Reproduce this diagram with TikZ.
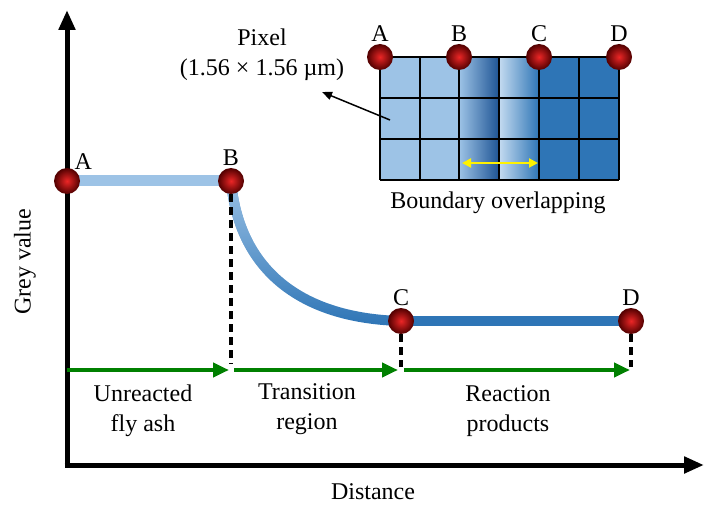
\documentclass[tikz,border=0pt]{standalone}
\usepackage{fontspec}
\setmainfont{Liberation Serif}
\usepackage{xcolor}
\usepackage{tikz}
\usetikzlibrary{arrows.meta, positioning, backgrounds, fadings}
\definecolor{paleblue}{RGB}{157, 195, 230}
\definecolor{deepblue}{RGB}{46, 117, 182}
\definecolor{darkerblue}{RGB}{30, 84, 148}
\definecolor{zonegreen}{RGB}{0, 128, 0}
\definecolor{beadred}{RGB}{232, 0, 0}

\tikzset{
    bead/.style={circle, minimum size=26pt, inner sep=0pt, shading=radial, inner color=beadred!85!white, outer color=beadred!35!black},
    letter/.style={inner sep=1pt},
    axisline/.style={line width=5pt, -{Triangle[length=20pt, width=16pt]}},
    dashline/.style={line width=4pt, dash pattern=on 8pt off 5pt},
    zonearrow/.style={line width=4pt, zonegreen, -{Triangle[length=16pt, width=14pt]}},
    gridline/.style={line width=2pt, black}
}

\begin{document}
\begin{tikzpicture}[x=1pt, y=-1pt, font=\fontsize{24}{30}\selectfont]
    \useasboundingbox (0,0) rectangle (704,505);

    % axes
    \coordinate (O) at (67,465);
    \coordinate (ytop) at (67,10);
    \coordinate (xend) at (704,465);
    \draw[axisline] (O) -- (ytop);
    \draw[axisline] ([xshift=-2.5pt]O) -- (xend);
    \node[rotate=90] (ylbl) at (25,262) {Grey value};
    \node (xlbl) at (373,492) {Distance};

    % grey value profile
    \node[bead] (A) at (67,181) {};
    \node[bead] (B) at (231,181) {};
    \node[bead] (C) at (401,321) {};
    \node[bead] (D) at (631,321) {};
    \node[letter, above right=1pt and -3pt of A] (Alab) {A};
    \node[letter, above=1pt of B] (Blab) {B};
    \node[letter, above=1pt of C] (Clab) {C};
    \node[letter, above=1pt of D] (Dlab) {D};

    \begin{pgfonlayer}{background}
        \draw[paleblue, line width=11pt] (A.center) -- (B.center);
        \draw[deepblue, line width=10pt] (B.center) .. controls (238,260) and (290,318) .. (C.center);
        \draw[paleblue, line width=10pt, path fading=south] (B.center) .. controls (238,260) and (290,318) .. (C.center);
        \draw[deepblue, line width=10pt] (C.center) -- (D.center);
    \end{pgfonlayer}

    % region boundaries
    \coordinate (a0) at (67,370);
    \coordinate (b0) at (231,370);
    \coordinate (c0) at (401,370);
    \coordinate (d0) at (631,370);
    \draw[dashline] (B.south) -- ([yshift=6pt]b0);
    \draw[dashline] (C.south) -- ([yshift=3pt]c0);
    \draw[dashline] (D.south) -- ([yshift=3pt]d0);
    \draw[zonearrow, shorten >=2pt] (a0) -- (b0);
    \draw[zonearrow, shorten <=3pt, shorten >=3pt] (b0) -- (c0);
    \draw[zonearrow, shorten <=3pt, shorten >=1pt] (c0) -- (d0);
    \node[align=center] (zone1) at (143,411) {Unreacted\\fly ash};
    \node[align=center] (zone2) at (307,409) {Transition\\region};
    \node[align=center] (zone3) at (508,411) {Reaction\\products};

    % pixel inset
    \fill[paleblue] (380,57) rectangle (459,180);
    \shade[left color=paleblue, middle color=paleblue!60!deepblue, right color=darkerblue] (459,57) rectangle (499,180);
    \shade[left color=paleblue!60!white, middle color=deepblue, right color=deepblue] (499,57) rectangle (539,180);
    \fill[deepblue] (539,57) rectangle (619,180);
    \foreach \x in {380,420,459,499,539,579,619}
        \draw[gridline] (\x,57) -- (\x,180);
    \foreach \y in {57,98,139,180}
        \draw[gridline] (380,\y) -- (619,\y);

    \node[bead] (A2) at (380,57) {};
    \node[bead] (B2) at (459,57) {};
    \node[bead] (C2) at (539,57) {};
    \node[bead] (D2) at (619,57) {};
    \node[letter, above=1pt of A2] (A2lab) {A};
    \node[letter, above=1pt of B2] (B2lab) {B};
    \node[letter, above=1pt of C2] (C2lab) {C};
    \node[letter, above=1pt of D2] (D2lab) {D};

    \coordinate (ov1) at (462,163);
    \coordinate (ov2) at (538,163);
    \draw[yellow, line width=2pt, {Triangle[length=9pt, width=9pt]}-{Triangle[length=9pt, width=9pt]}] (ov1) -- (ov2);
    \node (ovlbl) at (498,203) {Boundary overlapping};

    \node[align=center] (pixlbl) at (262,55) {Pixel\\(1.56 × 1.56 µm)};
    \coordinate (pxin) at (390,120);
    \coordinate (pxtip) at (322,92);
    \draw[line width=1.5pt, -{Triangle[length=10pt, width=8pt]}] (pxin) -- (pxtip);
\end{tikzpicture}
\end{document}
